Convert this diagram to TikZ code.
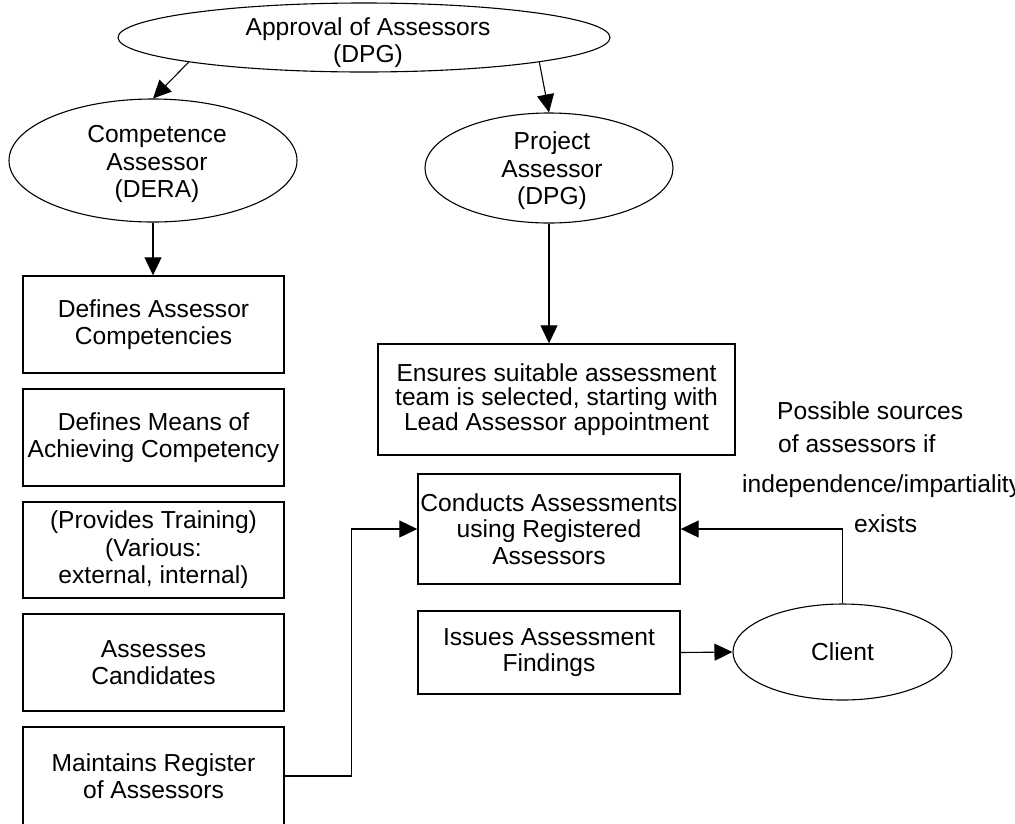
\documentclass[tikz,border=0pt]{standalone}
\usepackage{fontspec}
\setmainfont{Liberation Sans}
\usetikzlibrary{shapes.geometric,arrows.meta}
\begin{document}
\begin{tikzpicture}[x=1pt,y=-1pt,
  font=\fontsize{24.6}{27.5}\selectfont,
  box/.style={draw, line width=1.4pt, rectangle, inner sep=0pt, align=center},
  lbox/.style={box, minimum width=261pt, minimum height=97pt},
  oval/.style={draw, line width=1.1pt, ellipse, inner sep=0pt},
  txt/.style={inner sep=0pt, align=center},
  arr/.style={line width=1.1pt, -{Triangle[length=18pt,width=17pt]}},
  note/.style={anchor=base west, inner sep=0pt}]
\fill[white] (0,0) rectangle (1015,823);
\useasboundingbox (0,0) rectangle (1015,823);

% ellipses
\node[oval, minimum width=492pt, minimum height=69pt] (top) at (364,37.5) {};
\node[txt] (toptext) at (368,42.5) {Approval of Assessors\\(DPG)};
\node[oval, minimum width=288pt, minimum height=123pt] (comp) at (153,160.5) {};
\node[txt] (comptext) at (157,164) {Competence\\Assessor\\(DERA)};
\node[oval, minimum width=248pt, minimum height=110pt] (proj) at (549,168) {};
\node[txt] (projtext) at (552,171) {Project\\Assessor\\(DPG)};
\node[oval, minimum width=219pt, minimum height=96pt] (client) at (842.5,652) {Client};

% left column boxes
\node[lbox] (b1) at (153.5,324.5) {Defines Assessor\\Competencies};
\node[lbox] (b2) at (153.5,437.5) {Defines Means of\\Achieving Competency};
\node[lbox, minimum height=96pt] (b3) at (153.5,550) {(Provides Training)\\(Various:\\external, internal)};
\node[lbox] (b4) at (153.5,662.5) {Assesses\\Candidates};
\node[lbox, minimum height=98pt] (b5) at (153.5,776) {Maintains Register\\of Assessors};

% right column boxes
\node[box, minimum width=357pt, minimum height=111pt, font=\fontsize{24.6}{24.5}\selectfont] (ens) at (556.5,399.5)
  {Ensures suitable assessment\\team is selected, starting with\\Lead Assessor appointment};
\node[box, minimum width=262pt, minimum height=110pt, font=\fontsize{24.6}{26.5}\selectfont] (cond) at (549,529)
  {Conducts Assessments\\using Registered\\Assessors};
\node[box, minimum width=262pt, minimum height=83pt, font=\fontsize{24.6}{26.5}\selectfont] (iss) at (549,652.5)
  {Issues Assessment\\Findings};

% annotation
\node[note] (n1) at (777,419) {Possible sources};
\node[note] (n2) at (778,452) {of assessors if};
\node[note] (n3) at (742,492) {independence/impartiality};
\node[note] (n4) at (854,532) {exists};

% connectors
\draw[arr] (top.188) -- (comp.north);
\draw[arr] (top.-8) -- (proj.north);
\draw[arr] (comp.south) -- (b1.north -| comp.south);
\draw[arr] (proj.south) -- (proj.south |- ens.north);
\draw[arr] (b5.east) -- ++(67,0) |- (cond.west);
\draw[arr] (client.north) |- (cond.east);
\draw[arr] (iss.east) -- (client.west);
\end{tikzpicture}
\end{document}
